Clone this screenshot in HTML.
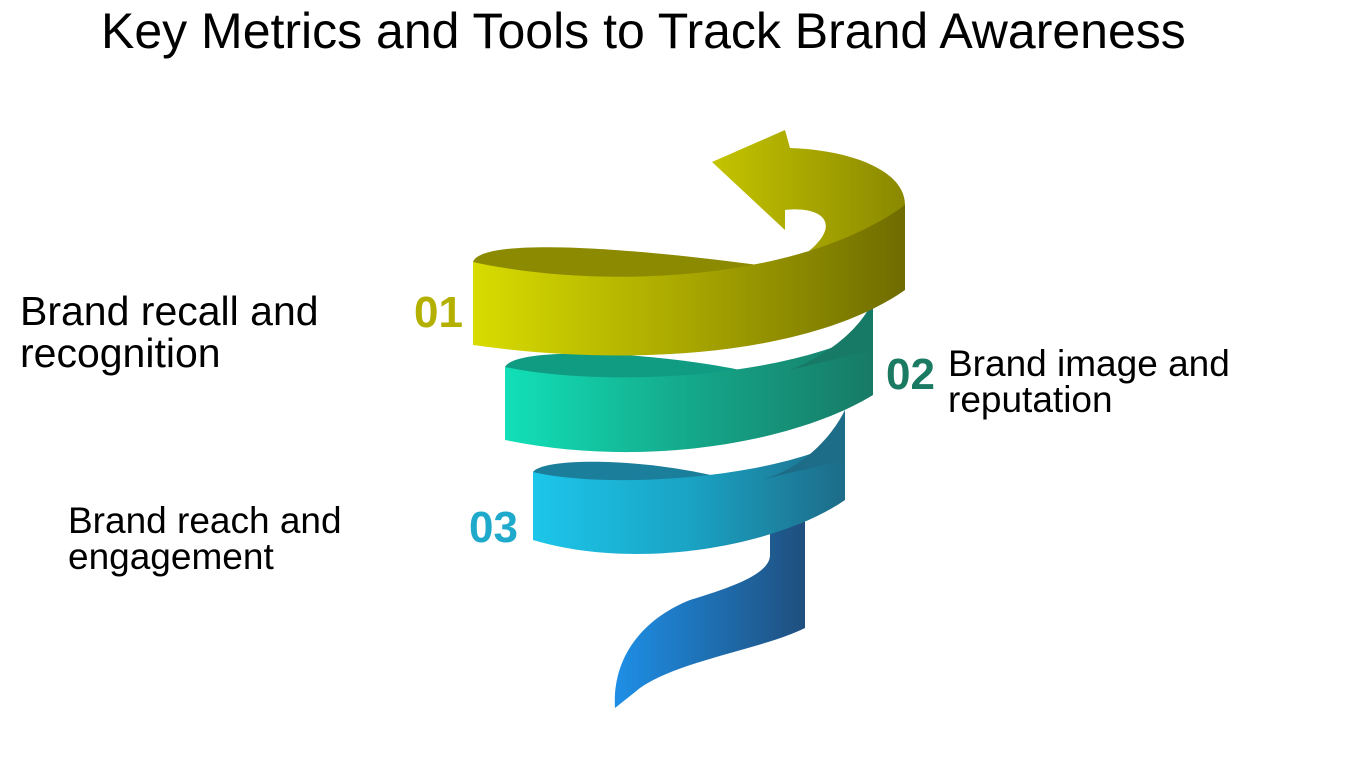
<!DOCTYPE html>
<html><head><meta charset="utf-8"><style>
body{margin:0;width:1359px;height:759px;background:#fff;overflow:hidden;position:relative;font-family:"Liberation Sans",sans-serif}
.t{position:absolute;color:#000;white-space:nowrap}
.n{position:absolute;font-weight:bold;font-family:"Liberation Sans",sans-serif}
</style></head><body>
<div class="t" style="left:101px;top:2px;font-size:50px">Key Metrics and Tools to Track Brand Awareness</div>
<div class="t" style="left:20px;top:290px;font-size:41px;line-height:42px">Brand recall and<br>recognition</div>
<div class="t" style="left:948px;top:346px;font-size:37px;line-height:36px">Brand image and<br>reputation</div>
<div class="t" style="left:68px;top:503px;font-size:37px;line-height:36px">Brand reach and<br>engagement</div>
<div class="n" style="left:414px;top:288px;font-size:44px;color:#b3b000">01</div>
<div class="n" style="left:886px;top:350px;font-size:44px;color:#1a7a62">02</div>
<div class="n" style="left:469px;top:503px;font-size:44px;color:#1faacb">03</div>
<svg width="1359" height="759" style="position:absolute;left:0;top:0">
<defs>
<linearGradient id="gt" x1="0" x2="1"><stop offset="0" stop-color="#1e8fe6"/><stop offset="1" stop-color="#1f4f7e"/></linearGradient>
<linearGradient id="gb" x1="0" x2="1"><stop offset="0" stop-color="#1cc6ea"/><stop offset="0.5" stop-color="#1aa3c4"/><stop offset="1" stop-color="#1d6c88"/></linearGradient>
<linearGradient id="gg" x1="0" x2="1"><stop offset="0" stop-color="#12e0b8"/><stop offset="0.5" stop-color="#14a88a"/><stop offset="1" stop-color="#177a66"/></linearGradient>
<linearGradient id="gy" x1="0" x2="1"><stop offset="0" stop-color="#d8dc00"/><stop offset="0.5" stop-color="#a8a600"/><stop offset="1" stop-color="#6f6c00"/></linearGradient>
<linearGradient id="ga" x1="0" x2="1"><stop offset="0" stop-color="#c4c400"/><stop offset="1" stop-color="#8a8800"/></linearGradient>
</defs>
<path d="M805,505 L805,628 C760,650 680,660 640,688 L615,708 C612,660 640,620 690,600 C740,585 770,572 770,555 L770,515 Z" fill="url(#gt)"/>
<path d="M533,472 C545,455 680,458 760,490 C700,494 600,492 533,482 Z" fill="#1b7f9c"/>
<path d="M533,472 C600,488 760,482 845,440 L845,410 L845,500 C780,545 640,572 533,540 Z" fill="url(#gb)"/>
<path d="M760,480 C800,470 830,440 845,410 L845,460 Z" fill="#1d6c88"/>
<path d="M505,367 C515,345 680,350 790,382 C700,388 600,385 505,378 Z" fill="#0f9c82"/>
<path d="M505,367 C600,387 780,380 873,330 L873,300 L873,395 C800,440 650,470 505,440 Z" fill="url(#gg)"/>
<path d="M790,370 C840,350 865,320 873,300 L873,350 Z" fill="#177a66"/>
<path d="M780,270 C850,255 905,232 905,205 C905,170 850,150 790,148 L785,130 L712,162 L785,230 L785,210 C830,205 850,232 780,270 Z" fill="url(#ga)"/>
<path d="M473,262 C480,240 600,243 780,268 C700,286 600,284 473,270 Z" fill="#8c8a00"/>
<path d="M473,262 C600,290 800,282 905,205 L905,290 C820,350 650,370 473,345 Z" fill="url(#gy)"/>
</svg>
</body></html>
